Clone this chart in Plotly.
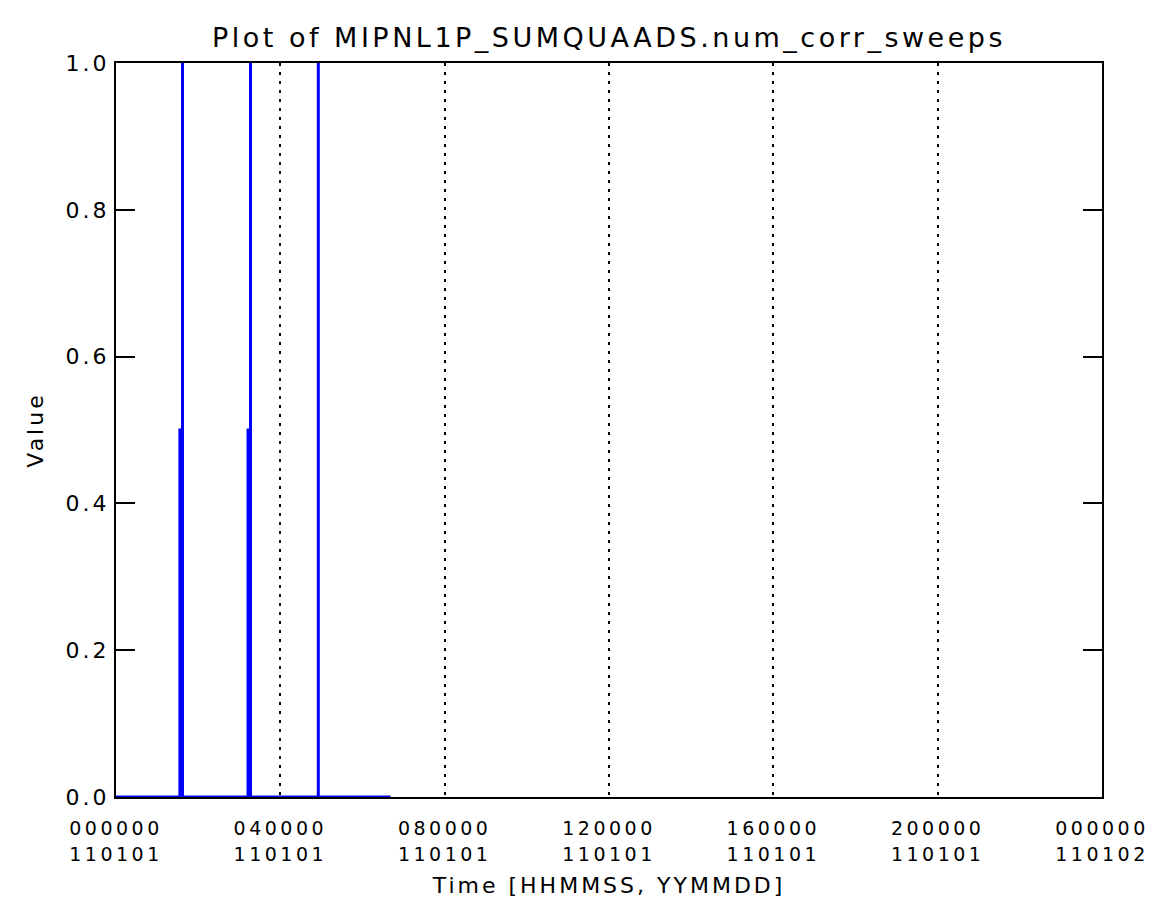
import plotly.graph_objects as go

# ---- data (seconds since 2011-01-01 00:00) ----
time_s = [0, 5600, 5600, 5827, 5827, 5827, 11570, 11570, 11786, 11786, 11786, 17727, 17727, 17727, 24050]
values = [0.0, 0.0, 0.5, 0.5, 1.0, 0.0, 0.0, 0.5, 0.5, 1.0, 0.0, 0.0, 1.0, 0.0, 0.0]

tick_seconds = [0, 14400, 28800, 43200, 57600, 72000, 86400]
tick_hhmmss = ["000000", "040000", "080000", "120000", "160000", "200000", "000000"]
tick_yymmdd = ["110101", "110101", "110101", "110101", "110101", "110101", "110102"]

y_ticks = [0.0, 0.2, 0.4, 0.6, 0.8, 1.0]
y_ticktext = ["0.0", "0.2", "0.4", "0.6", "0.8", "1.0"]

FONT = "DejaVu Sans"

fig = go.Figure()
fig.add_trace(go.Scatter(
    x=time_s, y=values, mode="lines",
    line=dict(color="#0000ff", width=3),
    cliponaxis=False, showlegend=False, hoverinfo="skip",
))
# helper trace so the second (date-row) axis is registered
fig.add_trace(go.Scatter(
    x=tick_seconds, y=[None] * len(tick_seconds), xaxis="x2", yaxis="y",
    mode="markers", marker=dict(opacity=0), showlegend=False, hoverinfo="skip",
))

fig.update_layout(
    width=1160, height=922,
    margin=dict(l=116, r=58, t=63, b=125, autoexpand=False),
    paper_bgcolor="white", plot_bgcolor="white",
    font=dict(family=FONT, size=19, color="black"),
    title=dict(
        text="Plot of MIPNL1P_SUMQUAADS.num_corr_sweeps",
        font=dict(family=FONT, size=27, color="black"),
        x=0.5, xref="paper", xanchor="center",
        y=1 - 38 / 922, yref="container", yanchor="middle",
    ),
    xaxis=dict(
        range=[0, 86400], tickmode="array",
        tickvals=tick_seconds, ticktext=tick_hhmmss,
        ticks="", ticklabelstandoff=13,
        showline=True, linecolor="black", linewidth=2, mirror=True,
        showgrid=True, gridcolor="black", gridwidth=2, griddash="3px,6px",
        zeroline=False, automargin=False,
        tickfont=dict(family=FONT, size=19, color="black"),
    ),
    xaxis2=dict(
        range=[0, 86400], matches="x", overlaying="x", anchor="y", side="bottom",
        tickmode="array", tickvals=tick_seconds, ticktext=tick_yymmdd,
        ticks="", ticklabelstandoff=44,
        showline=False, showgrid=False, zeroline=False, automargin=False,
        tickfont=dict(family=FONT, size=19, color="black"),
        title=dict(text="Time [HHMMSS, YYMMDD]", standoff=13,
                   font=dict(family=FONT, size=22, color="black")),
    ),
    yaxis=dict(
        range=[0, 1], tickmode="array", tickvals=y_ticks, ticktext=y_ticktext,
        ticks="inside", ticklen=19, tickwidth=2, tickcolor="black",
        ticklabelstandoff=0,
        showline=True, linecolor="black", linewidth=2, mirror="ticks",
        showgrid=False, zeroline=False, automargin=False,
        tickfont=dict(family=FONT, size=22, color="black"),
        title=dict(text="Value", standoff=25,
                   font=dict(family=FONT, size=22, color="black")),
    ),
)

post = """
var s = document.createElement('style');
s.textContent = 'html,body{margin:0;padding:0} .gtitle{letter-spacing:3.5px} .xtick text, .x2tick text{letter-spacing:3.5px} .ytick text{letter-spacing:3px} .xtitle, .x2title, .ytitle{letter-spacing:3px}';
document.head.appendChild(s);
"""

fig.write_html("out.html", post_script=post, config={"displayModeBar": False})
